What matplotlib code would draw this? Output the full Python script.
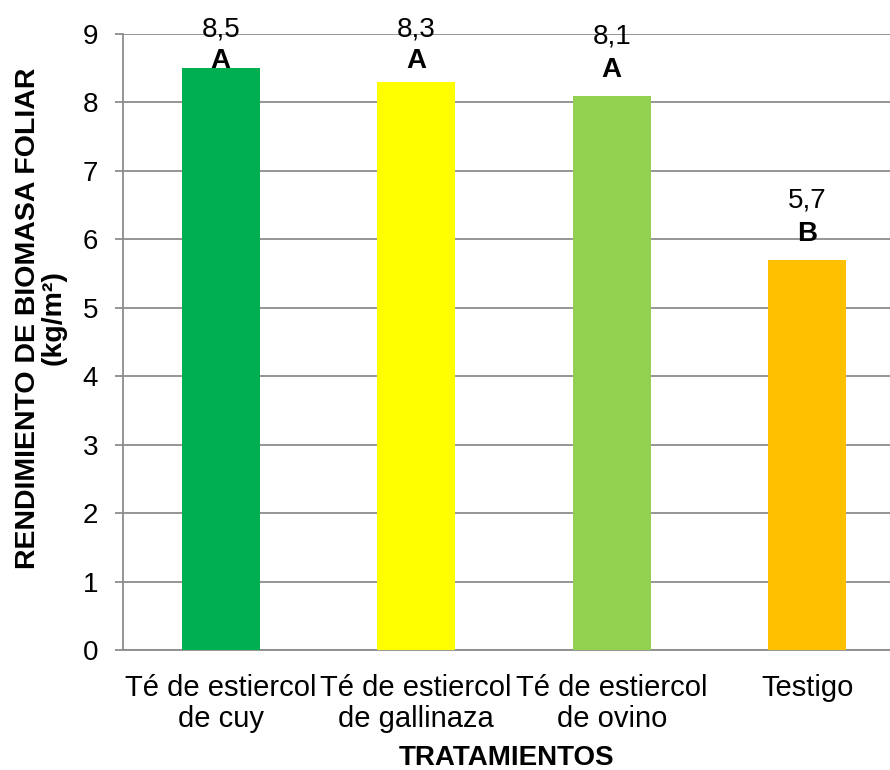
import numpy as np
import matplotlib
matplotlib.use("Agg")
import matplotlib.pyplot as plt

plt.rcParams['font.family'] = ['Liberation Sans', 'DejaVu Sans']

# data
tratamientos = ["Té de estiercol\nde cuy", "Té de estiercol\nde gallinaza",
                "Té de estiercol\nde ovino", "Testigo"]
rendimiento = [8.5, 8.3, 8.1, 5.7]
valor_txt = ["8,5", "8,3", "8,1", "5,7"]
grupos = ["A", "A", "A", "B"]
colores = ["#00B050", "#FFFF00", "#92D050", "#FFC000"]
yticks = list(range(0, 10))

W, H = 890, 770
fig = plt.figure(figsize=(W / 100, H / 100), dpi=100)
# plot area runs off the right edge, like the source
ax = fig.add_axes([123 / W, (H - 650) / H, 782 / W, 616 / H])

x = np.arange(len(tratamientos))
ax.bar(x, rendimiento, width=0.40, color=colores, zorder=3)

grid_c = "#8c8c8c"
ax.set_ylim(0, 9)
ax.set_xlim(-0.5, len(tratamientos) - 0.5)
ax.set_yticks(yticks)
ax.set_yticklabels([str(t) for t in yticks], fontsize=20)
ax.yaxis.grid(True, color=grid_c, linewidth=1.3, zorder=0)
ax.set_xticks(x)
ax.set_xticklabels(tratamientos, fontsize=21, linespacing=1.15)
ax.tick_params(axis='x', length=0, pad=17)
ax.tick_params(axis='y', length=6, color=grid_c, width=1.3, pad=12)

for s in ["top", "right"]:
    ax.spines[s].set_visible(False)
for s in ["left", "bottom"]:
    ax.spines[s].set_color(grid_c)
    ax.spines[s].set_linewidth(1.3)

# value and group labels, kept inside the plot top like Excel does
px = 616 / 9.0
for xi, v, t, g in zip(x, rendimiento, valor_txt, grupos):
    y_num = min(v + 52 / px, 9 - 3 / px)
    y_let = min(v + 19 / px, 9 - 34 / px)
    ax.text(xi, y_num, t, ha='center', va='baseline', fontsize=20, zorder=4)
    ax.text(xi, y_let, g, ha='center', va='baseline', fontsize=20,
            fontweight='bold', zorder=4)

fig.text(507 / W, 1 - 758 / H, "TRATAMIENTOS", ha='center', va='center',
         fontsize=20, fontweight='bold')
fig.text(41 / W, 1 - 318 / H, "RENDIMIENTO DE BIOMASA FOLIAR\n(kg/m²)",
         rotation=90, ha='center', va='center', multialignment='center',
         fontsize=20.5, fontweight='bold', linespacing=1.0)

fig.savefig("out.png", dpi=100)
